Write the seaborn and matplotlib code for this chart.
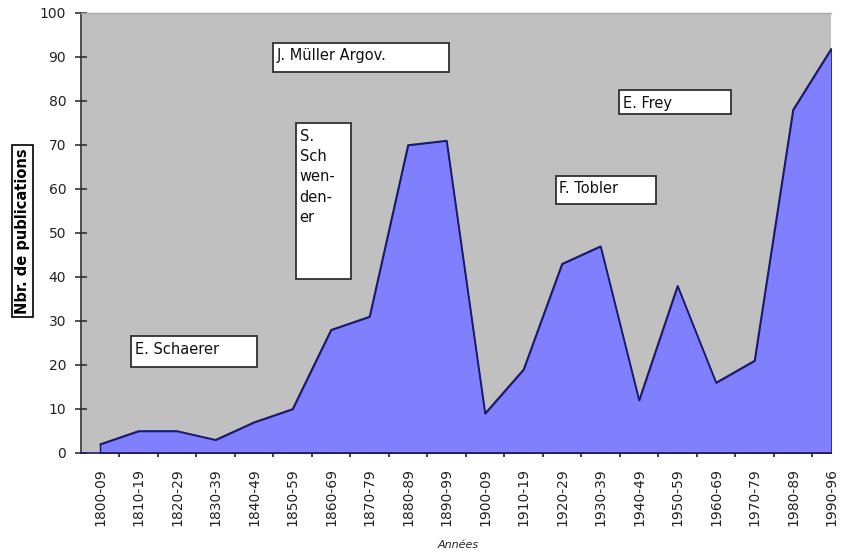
import numpy as np
import pandas as pd
import matplotlib
matplotlib.use("Agg")
import matplotlib.pyplot as plt
import seaborn as sns
from matplotlib.patches import Rectangle

# ---- data ----
categories = ["1800-09", "1810-19", "1820-29", "1830-39", "1840-49", "1850-59",
              "1860-69", "1870-79", "1880-89", "1890-99", "1900-09", "1910-19",
              "1920-29", "1930-39", "1940-49", "1950-59", "1960-69", "1970-79",
              "1980-89", "1990-96"]
publications = [2, 5, 5, 3, 7, 10, 28, 31, 70, 71, 9, 19, 43, 47, 12, 38, 16, 21, 78, 92]
y_ticks = [0, 10, 20, 30, 40, 50, 60, 70, 80, 90, 100]
annotation_labels = ["E. Schaerer", "J. Müller Argov.", "S.\nSch\nwen-\nden-\ner",
                     "F. Tobler", "E. Frey"]
x_title = "Années"
y_title = "Nbr. de publications"

df = pd.DataFrame({"pos": np.arange(len(categories)), "cat": categories,
                   "n": publications})

sns.set_theme(style="white")
plt.rcParams["font.family"] = ["DejaVu Sans"]

W, H = 845, 556
fig = plt.figure(figsize=(W / 100, H / 100), dpi=100)
fig.patch.set_facecolor("white")
ax = fig.add_axes([80.75 / W, 1 - 453 / H, (831.5 - 80.75) / W, 440 / H])
ax.set_facecolor("#C0C0C0")

ax.fill_between(df["pos"], 0, df["n"], facecolor="#8080FF",
                edgecolor="#1A1A6E", linewidth=1.1, zorder=2)
sns.lineplot(data=df, x="pos", y="n", ax=ax, color="#1A1A6E", linewidth=1.1,
             zorder=3)

ax.set_xlim(-0.5, len(categories) - 1)
ax.set_ylim(0, 100)

# y axis
ax.set_yticks(y_ticks)
ax.set_yticklabels([str(v) for v in y_ticks])
ax.tick_params(axis="y", which="major", direction="inout", length=9, width=1.2,
               color="#333333", labelsize=10, labelcolor="#222222", pad=6,
               left=True)

# x axis: labels at centres, tick marks at category boundaries
ax.set_xticks(df["pos"])
ax.set_xticklabels(categories, rotation=90)
ax.set_xticks(np.arange(0.5, len(categories) - 1, 1.0), minor=True)
ax.tick_params(axis="x", which="major", length=0, labelsize=10,
               labelcolor="#222222", pad=11)
ax.tick_params(axis="x", which="minor", direction="inout", length=6, width=1.2,
               color="#1A1A6E", bottom=True)

ax.spines["right"].set_visible(False)
ax.spines["top"].set_color("#A8A8A8")
ax.spines["top"].set_linewidth(1.0)
ax.spines["left"].set_color("#333333")
ax.spines["left"].set_linewidth(1.2)
ax.spines["bottom"].set_color("#1A1A6E")
ax.spines["bottom"].set_linewidth(1.2)
ax.grid(False)

ax.set_xlabel(x_title, fontsize=8, style="italic", color="#222222")
ax.xaxis.set_label_coords(0.5025, -0.198)
ax.set_ylabel(y_title, fontsize=10.5, fontweight="bold", color="black",
              va="center", ha="center",
              bbox=dict(boxstyle="square,pad=0.2", fc="white", ec="black", lw=1.2))
ax.yaxis.set_label_coords(-0.078, 0.505)

# annotation boxes (axes fraction: x0, y0, x1, y1)
boxes = [(0.067, 0.195, 0.235, 0.266),
         (0.256, 0.866, 0.491, 0.932),
         (0.287, 0.395, 0.360, 0.750),
         (0.633, 0.566, 0.766, 0.630),
         (0.717, 0.770, 0.866, 0.825)]
for label, (x0, y0, x1, y1) in zip(annotation_labels, boxes):
    ax.add_patch(Rectangle((x0, y0), x1 - x0, y1 - y0, transform=ax.transAxes,
                           facecolor="white", edgecolor="#303030", linewidth=1.3,
                           zorder=5))
    ax.annotate(label, xy=(x0, y1), xycoords="axes fraction",
                xytext=(2.5, -4), textcoords="offset points",
                ha="left", va="top", fontsize=10.5, color="#111111",
                linespacing=1.45, zorder=6)

fig.savefig("out.png", dpi=100)
